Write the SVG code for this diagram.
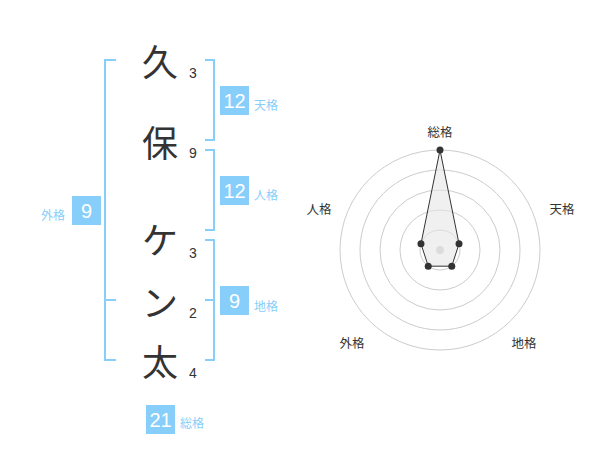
<svg xmlns="http://www.w3.org/2000/svg" width="600" height="470" viewBox="0 0 600 470">
<style>
.ch{font-family:"Noto Sans CJK JP","Noto Sans",sans-serif;font-size:36px;fill:#333;text-anchor:middle;dominant-baseline:central}
.num{font-family:"Liberation Sans","Noto Sans",sans-serif;font-size:14px;fill:#333;text-anchor:middle;dominant-baseline:central}
.br{fill:none;stroke:#87cefa;stroke-width:2}
.box{fill:#87cefa}
.bn{font-family:"Liberation Sans","Noto Sans",sans-serif;font-size:20px;fill:#fff;text-anchor:middle;dominant-baseline:central}
.lb{font-family:"Noto Sans CJK JP","Noto Sans",sans-serif;font-size:12px;fill:#87cefa;dominant-baseline:central}
.rl{font-family:"Noto Sans CJK JP","Noto Sans",sans-serif;font-size:12.5px;fill:#333;text-anchor:middle;dominant-baseline:central}
.ring{fill:none;stroke:#ccc;stroke-width:1}
.pt{fill:#333}
</style>
<rect width="600" height="470" fill="#fff"/>
<g id="chars">
<text class="ch" x="160" y="60">久</text>
<text class="num" x="193" y="73">3</text>
<text class="ch" x="160" y="141">保</text>
<text class="num" x="193" y="153">9</text>
<text class="ch" x="160" y="238">ケ</text>
<text class="num" x="193" y="253">3</text>
<text class="ch" x="160" y="301">ン</text>
<text class="num" x="193" y="313">2</text>
<text class="ch" x="160" y="360">太</text>
<text class="num" x="193" y="373">4</text>
</g>
<g id="connectors">
<path class="br" d="M116,60 H105 V360 H116 M105,300 H116"/>
<path class="br" d="M205,60 H214 V140 H205"/>
<path class="br" d="M205,150 H214 V230 H205"/>
<path class="br" d="M205,240 H214 V360 H205 M205,300 H214"/>
</g>
<g id="tenkaku">
<rect class="box" x="220" y="86" width="29" height="29"/>
<text class="bn" x="234.5" y="101">12</text>
<text class="lb" x="254" y="104">天格</text>
</g>
<g id="jinkaku">
<rect class="box" x="220" y="176" width="29" height="29"/>
<text class="bn" x="234.5" y="191">12</text>
<text class="lb" x="254" y="194">人格</text>
</g>
<g id="gaikaku">
<rect class="box" x="72" y="196" width="29" height="29"/>
<text class="bn" x="86.5" y="211">9</text>
<text class="lb" x="41" y="214">外格</text>
</g>
<g id="chikaku">
<rect class="box" x="220" y="286" width="29" height="29"/>
<text class="bn" x="234.5" y="301">9</text>
<text class="lb" x="254" y="305">地格</text>
</g>
<g id="soukaku">
<rect class="box" x="146" y="405" width="29" height="29"/>
<text class="bn" x="160.5" y="420">21</text>
<text class="lb" x="180" y="422">総格</text>
</g>
<g id="radar">
<circle class="ring" cx="440" cy="250" r="20"/>
<circle class="ring" cx="440" cy="250" r="40"/>
<circle class="ring" cx="440" cy="250" r="60"/>
<circle class="ring" cx="440" cy="250" r="80"/>
<circle class="ring" cx="440" cy="250" r="100"/>
<circle cx="440" cy="250" r="4" fill="#ccc"/>
<polygon points="440,150 459.02,243.82 451.76,266.18 428.24,266.18 420.98,243.82" fill="#e6e6e6" fill-opacity="0.6" stroke="#333" stroke-width="1"/>
<circle class="pt" cx="440" cy="150" r="3.5"/>
<circle class="pt" cx="459.02" cy="243.82" r="3.5"/>
<circle class="pt" cx="451.76" cy="266.18" r="3.5"/>
<circle class="pt" cx="428.24" cy="266.18" r="3.5"/>
<circle class="pt" cx="420.98" cy="243.82" r="3.5"/>
<text class="rl" x="440" y="131">総格</text>
<text class="rl" x="562" y="208">天格</text>
<text class="rl" x="524" y="342">地格</text>
<text class="rl" x="352" y="342">外格</text>
<text class="rl" x="319" y="208">人格</text>
</g>
</svg>
